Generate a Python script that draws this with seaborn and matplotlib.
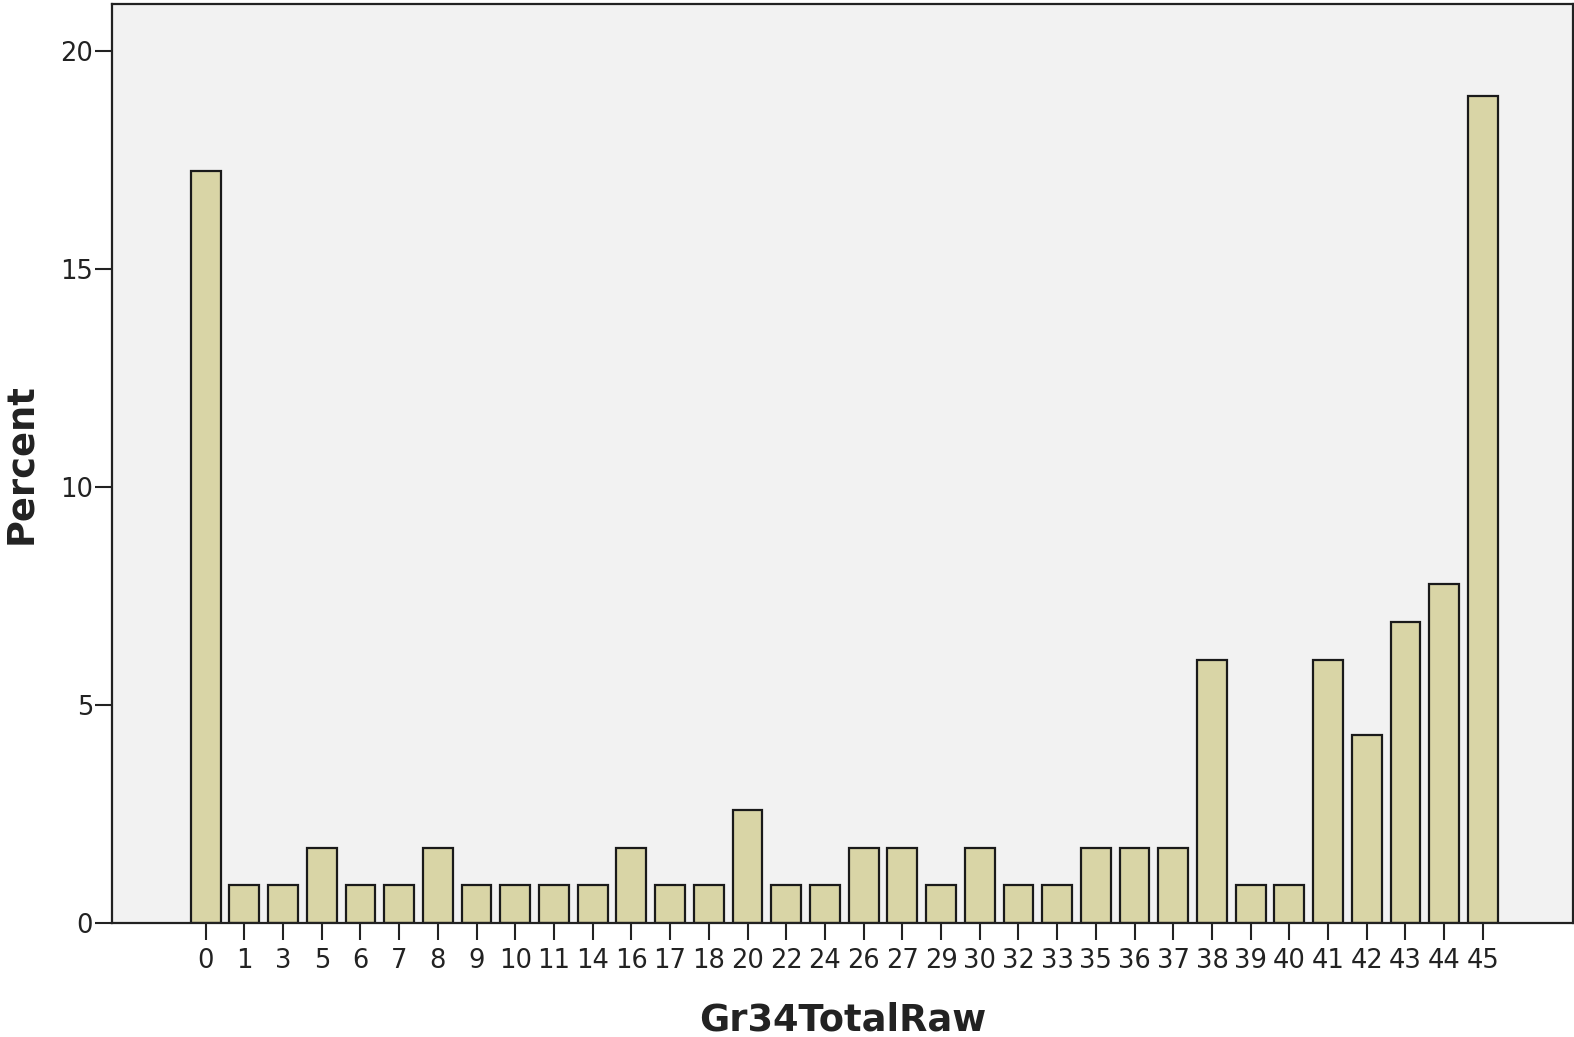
import matplotlib
matplotlib.use("Agg")
import matplotlib.pyplot as plt
import seaborn as sns
import pandas as pd

categories = ["0", "1", "3", "5", "6", "7", "8", "9", "10", "11", "14", "16", "17", "18",
              "20", "22", "24", "26", "27", "29", "30", "32", "33", "35", "36", "37", "38",
              "39", "40", "41", "42", "43", "44", "45"]
percent = [17.24, 0.86, 0.86, 1.72, 0.86, 0.86, 1.72, 0.86, 0.86, 0.86, 0.86, 1.72, 0.86, 0.86,
           2.59, 0.86, 0.86, 1.72, 1.72, 0.86, 1.72, 0.86, 0.86, 1.72, 1.72, 1.72, 6.03,
           0.86, 0.86, 6.03, 4.31, 6.90, 7.76, 18.97]
y_ticks = [0, 5, 10, 15, 20]

sns.set_theme(style="white")
plt.rcParams['font.family'] = ['DejaVu Sans']

df = pd.DataFrame({"Gr34TotalRaw": categories, "Percent": percent})

fig = plt.figure(figsize=(15.74, 10.37), dpi=100)
ax = fig.add_axes([0.0714, 0.1104, 0.928, 0.8857])
ax.set_facecolor("#f2f2f2")

sns.barplot(data=df, x="Gr34TotalRaw", y="Percent", order=categories,
            color="#d9d5a6", saturation=1, edgecolor="#1a1a1a", linewidth=1.6,
            width=0.77, ax=ax)

ax.set_xlim(-2.41, 35.33)
ax.set_ylim(0, 21.08)
ax.set_yticks(y_ticks)
ax.set_yticklabels([str(t) for t in y_ticks])

for s in ax.spines.values():
    s.set_color("#222222")
    s.set_linewidth(1.6)

ax.tick_params(axis="both", direction="out", length=12, width=1.5, color="#222222",
               labelsize=18.5, labelcolor="#222222")
ax.tick_params(axis="x", bottom=True, pad=6)
ax.tick_params(axis="y", left=True, pad=2)

ax.set_xlabel("Gr34TotalRaw", fontsize=26.5, fontweight="bold", color="#222222", labelpad=20)
ax.set_ylabel("Percent", fontsize=26.5, fontweight="bold", color="#222222", labelpad=15)

fig.savefig("out.png", dpi=100)
